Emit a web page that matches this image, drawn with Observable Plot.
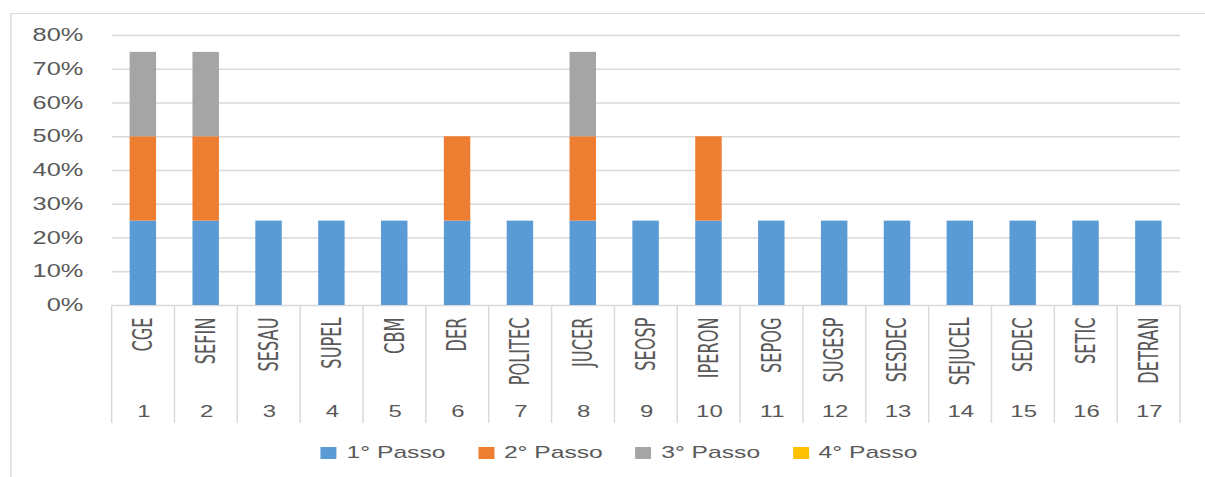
<!DOCTYPE html>
<html><head><meta charset="utf-8">
<script src="https://cdn.jsdelivr.net/npm/d3@7"></script>
<script src="https://cdn.jsdelivr.net/npm/@observablehq/plot@0.6"></script>
<style>
body{margin:0;background:#fff;}
#wrap{position:relative;width:831px;height:477px;transform:scaleX(1.45);transform-origin:0 0;font-family:"Liberation Sans",Arial,sans-serif;overflow:hidden;background:#fff}
#border{position:absolute;left:7px;top:13px;width:900px;height:500px;border:1px solid #d9d9d9;}
#chart{position:absolute;left:0;top:0}
#legend{position:absolute;left:221px;top:443px;display:flex;align-items:center;font-size:17px;color:#595959}
.item{display:flex;align-items:center;width:108.5px}
.sw{width:11px;height:12px;margin-right:7px;flex:none}
</style>
</head><body>
<div id="wrap"><div id="border"></div><div id="chart"></div><div id="legend"></div></div>
<script>
const orgaos = ["CGE","SEFIN","SESAU","SUPEL","CBM","DER","POLITEC","JUCER","SEOSP","IPERON","SEPOG","SUGESP","SESDEC","SEJUCEL","SEDEC","SETIC","DETRAN"];
const numeros = [1,2,3,4,5,6,7,8,9,10,11,12,13,14,15,16,17];
const series = ["1° Passo","2° Passo","3° Passo","4° Passo"];
const cores = ["#5B9BD5","#ED7D31","#A5A5A5","#FFC000"];
const passo1 = [0.25,0.25,0.25,0.25,0.25,0.25,0.25,0.25,0.25,0.25,0.25,0.25,0.25,0.25,0.25,0.25,0.25];
const passo2 = [0.25,0.25,0,0,0,0.25,0,0.25,0,0.25,0,0,0,0,0,0,0];
const passo3 = [0.25,0.25,0,0,0,0,0,0.25,0,0,0,0,0,0,0,0,0];
const passo4 = [0,0,0,0,0,0,0,0,0,0,0,0,0,0,0,0,0];
const yTicks = [0,0.1,0.2,0.3,0.4,0.5,0.6,0.7,0.8];

const valores = [passo1, passo2, passo3, passo4];
const rows = [];
series.forEach((s, si) => orgaos.forEach((o, i) => rows.push({orgao: o, serie: s, valor: valores[si][i]})));

function separadores(index, scales, values, dims) {
  const x = scales.x;
  const bw = x.bandwidth ? x.bandwidth() : (x(orgaos[1]) - x(orgaos[0]));
  const y0 = dims.height - dims.marginBottom;
  const g = d3.create("svg:g").attr("stroke", "#d9d9d9").attr("stroke-width", 1);
  const edges = orgaos.map(d => x(d)).concat([x(orgaos[orgaos.length - 1]) + bw]);
  for (const e of edges) g.append("line").attr("x1", e).attr("x2", e).attr("y1", y0).attr("y2", y0 + 118);
  return g.node();
}

const chart = Plot.plot({
  width: 831,
  height: 440,
  marginLeft: 77,
  marginRight: 17.2,
  marginTop: 35,
  marginBottom: 135,
  style: {fontFamily: '"Liberation Sans", Arial, sans-serif', color: "#595959", background: "transparent"},
  x: {domain: orgaos, padding: 0, round: false, axis: null},
  y: {domain: [0, 0.8], axis: null},
  color: {domain: series, range: cores},
  marks: [
    Plot.gridY(yTicks, {stroke: "#d9d9d9", strokeOpacity: 1, strokeWidth: 1.3, x1: null}),
    Plot.barY(rows.filter(d => d.valor > 0), {x: "orgao", y: "valor", fill: "serie", order: series, insetLeft: 12.4, insetRight: 12.7}),
    Plot.axisY(yTicks, {tickFormat: d3.format(".0%"), tickSize: 0, tickPadding: 20, fontSize: 17.5, fill: "#595959", label: null}),
    Plot.axisX({tickRotate: -90, tickSize: 0, tickPadding: 12, fontSize: 18, fill: "#595959", textAnchor: "end", lineAnchor: "middle", label: null, fontFamily: '"Liberation Sans Narrow", "DejaVu Sans Condensed", "Liberation Sans", sans-serif', fontStretch: "condensed"}),
    Plot.axisX({tickFormat: d => numeros[orgaos.indexOf(d)], tickSize: 0, tickPadding: 100, fontSize: 16.5, fill: "#595959", label: null}),
    separadores
  ]
});
document.getElementById("chart").appendChild(chart);

const legend = document.getElementById("legend");
series.forEach((s, i) => {
  const it = document.createElement("div"); it.className = "item";
  const sw = document.createElement("div"); sw.className = "sw"; sw.style.background = cores[i];
  const t = document.createElement("span"); t.textContent = s;
  it.appendChild(sw); it.appendChild(t); legend.appendChild(it);
});
</script>
</body></html>
